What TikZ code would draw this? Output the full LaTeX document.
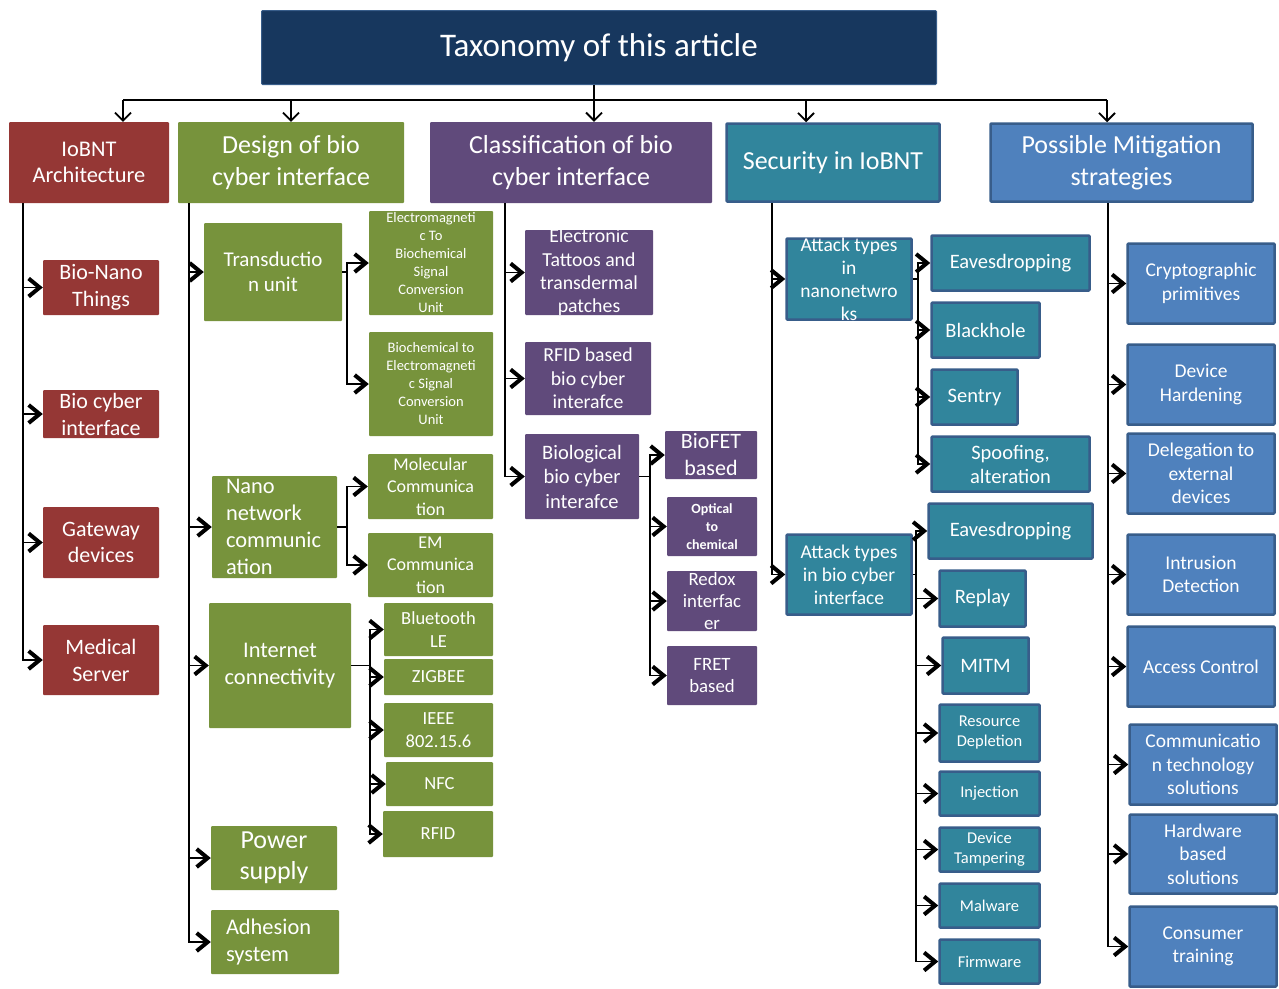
\documentclass[tikz,border=0pt]{standalone}
\usepackage{fontspec}
\setmainfont{Carlito}
\usetikzlibrary{arrows.meta}

\definecolor{ionavy}{HTML}{17375E}
\definecolor{iored}{HTML}{953735}
\definecolor{iogreen}{HTML}{77933C}
\definecolor{iopurple}{HTML}{604A7B}
\definecolor{ioteal}{HTML}{31859C}
\definecolor{ioblue}{HTML}{4F81BD}
\definecolor{ioedge}{HTML}{385D8A}

\tikzset{
	box/.style={rectangle, inner sep=1pt, align=center, text=white, rounded corners=1pt},
	titlebox/.style={box, fill=ionavy, draw=ioedge, line width=1pt},
	redbox/.style={box, fill=iored},
	greenbox/.style={box, fill=iogreen},
	purplebox/.style={box, fill=iopurple},
	tealbox/.style={box, fill=ioteal, draw=ioedge, line width=2.5pt},
	bluebox/.style={box, fill=ioblue, draw=ioedge, line width=2.5pt},
	wh/.style 2 args={minimum width=#1pt, minimum height=#2pt},
	fs/.style 2 args={font=\fontsize{#1}{#2}\selectfont},
	fsb/.style 2 args={font=\fontsize{#1}{#2}\selectfont\bfseries},
	wire/.style={draw=black, line width=1.6pt},
	arr/.style={wire, -{Straight Barb[length=11pt,width=18pt,line width=4pt]}},
	toparr/.style={wire, -{Straight Barb[length=8pt,width=16pt,line width=1.8pt]}}
}

\begin{document}
\begin{tikzpicture}[x=1pt,y=-1pt]
	\useasboundingbox (0,0) rectangle (1279,988);
	
	% title and the five branches
	\node[titlebox, wh={675}{74}, fs={33}{40}] (title) at (599,47.5) {Taxonomy of this article};
	
	\node[redbox, wh={160}{81}, fs={22.4}{26}] (arch) at (89,162.5) {IoBNT\\Architecture};
	\node[greenbox, wh={226}{81}, fs={26}{32}] (design) at (291,162.5) {Design of bio\\cyber interface};
	\node[purplebox, wh={282}{81}, fs={26}{32}] (classif) at (571,162.5) {Classification of bio\\cyber interface};
	\node[tealbox, wh={213}{78}, fs={26}{32}] (security) at (833,162.5) {Security in IoBNT};
	\node[bluebox, wh={262}{78}, fs={26}{32}] (mitig) at (1121.5,162.5) {Possible Mitigation\\strategies};
	
	\coordinate (busA) at (123,100);
	\coordinate (bus) at (594,100);
	\coordinate (busD) at (806,100);
	\coordinate (busE) at (1107,100);
	\draw[wire] (busA) -- (busE);
	\draw[toparr] (busA) -- (busA |- arch.north);
	\draw[toparr] (bus -| design.north) -- (design.north);
	\draw[toparr] (bus |- title.south) -- (bus |- classif.north);
	\draw[toparr] (busD) -- (busD |- security.north);
	\draw[toparr] (busE) -- (busE |- mitig.north);
	
	% IoBNT architecture
	\node[redbox, wh={116}{55}, fs={22}{27}, inner ysep=-2pt] (bionano) at (101,287.5) {Bio-Nano\\Things};
	\node[redbox, wh={116}{48}, fs={22}{27}, inner ysep=-4pt] (biocyber) at (101,414) {Bio cyber\\interface};
	\node[redbox, wh={116}{71}, fs={22}{26}] (gateway) at (101,542.5) {Gateway\\devices};
	\node[redbox, wh={116}{70}, fs={22}{27}] (medserver) at (101,660) {Medical\\Server};
	
	\coordinate (archtrunk) at (23,203);
	\draw[arr] (archtrunk) |- (bionano.west);
	\draw[arr] (archtrunk) |- (biocyber.west);
	\draw[arr] (archtrunk) |- (gateway.west);
	\draw[arr] (archtrunk) |- (medserver.west);
	
	% design of bio cyber interface
	\node[greenbox, wh={138}{98}, fs={21}{25}] (transd) at (273,272) {Transductio\\n unit};
	\node[greenbox, wh={125}{102}, fs={22.4}{27}, align=left, text width=97pt, inner xsep=14pt, inner ysep=-5pt] (nanonet) at (274.5,527) {Nano\\network\\communic\\ation};
	\node[greenbox, wh={142}{125}, fs={22.4}{27}] (internet) at (280,665.5) {Internet\\connectivity};
	\node[greenbox, wh={126}{64}, fs={26}{31}] (power) at (274,858) {Power\\supply};
	\node[greenbox, wh={128}{64}, fs={22.4}{27}, align=left, text width=98pt, inner xsep=15pt] (adhesion) at (275,942) {Adhesion\\system};
	
	\coordinate (designtrunk) at (189,203);
	\draw[arr] (designtrunk) |- (transd.west);
	\draw[arr] (designtrunk) |- (nanonet.west);
	\draw[arr] (designtrunk) |- (internet.west);
	\draw[arr] (designtrunk) |- (power.west);
	\draw[arr] (designtrunk) |- (adhesion.west);
	
	\node[greenbox, wh={124}{104}, fs={14.5}{18}, inner ysep=-4pt] (emtobio) at (431,263) {Electromagneti\\c To\\Biochemical\\Signal\\Conversion\\Unit};
	\node[greenbox, wh={124}{104}, fs={14.5}{18}] (biotoem) at (431,384) {Biochemical to\\Electromagneti\\c Signal\\Conversion\\Unit};
	\draw[wire] (transd.east) -- ++(5,0) coordinate (transdj);
	\draw[arr] (transdj) |- (emtobio.west);
	\draw[arr] (transdj) |- (biotoem.west);
	
	\node[greenbox, wh={125}{65}, fs={18}{22.5}, inner ysep=-3pt] (molcomm) at (430.5,486.5) {Molecular\\Communica\\tion};
	\node[greenbox, wh={125}{64}, fs={18}{22.5}, inner ysep=-3pt] (emcomm) at (430.5,565) {EM\\Communica\\tion};
	\draw[wire] (nanonet.east) -- ++(10,0) coordinate (nanonetj);
	\draw[arr] (nanonetj) |- (molcomm.west);
	\draw[arr] (nanonetj) |- (emcomm.west);
	
	\node[greenbox, wh={109}{53}, fs={18.5}{23}] (ble) at (438.5,629.5) {Bluetooth\\LE};
	\node[greenbox, wh={109}{36}, fs={18.5}{23}] (zigbee) at (438.5,677) {ZIGBEE};
	\node[greenbox, wh={109}{54}, fs={18.5}{23}] (ieee) at (438.5,730) {IEEE\\802.15.6};
	\node[greenbox, wh={107}{44}, fs={18.5}{23}] (nfc) at (439.5,784) {NFC};
	\node[greenbox, wh={110}{46}, fs={18.5}{23}] (rfid) at (438,834) {RFID};
	\draw[wire] (internet.east) -- ++(19,0) coordinate (internetj);
	\draw[arr] (internetj) |- (ble.west);
	\draw[arr] (internetj) |- (zigbee.west);
	\draw[arr] (internetj) |- (ieee.west);
	\draw[arr] (internetj) |- (nfc.west);
	\draw[arr] (internetj) |- (rfid.west);
	
	% classification of bio cyber interface
	\node[purplebox, wh={128}{85}, fs={19.8}{23.3}, inner ysep=-6pt] (tattoo) at (589,272.5) {Electronic\\Tattoos and\\transdermal\\patches};
	\node[purplebox, wh={126}{73}, fs={19.8}{23.5}] (rfidbio) at (588,378.5) {RFID based\\bio cyber\\interafce};
	\node[purplebox, wh={114}{85}, fs={20.5}{24.5}] (biologic) at (582,476.5) {Biological\\bio cyber\\interafce};
	
	\coordinate (classiftrunk) at (505,203);
	\draw[arr] (classiftrunk) |- (tattoo.west);
	\draw[arr] (classiftrunk) |- (rfidbio.west);
	\draw[arr] (classiftrunk) |- (biologic.west);
	
	\node[purplebox, wh={92}{48}, fs={22}{27}, inner ysep=-5pt] (biofet) at (711,455) {BioFET\\based};
	\node[purplebox, wh={90}{59}, fsb={14}{18}] (optical) at (712,526.5) {Optical\\to\\chemical};
	\node[purplebox, wh={90}{60}, fs={18.8}{22}, inner ysep=-4pt] (redox) at (712,601) {Redox\\interfac\\er};
	\node[purplebox, wh={90}{59}, fs={18.8}{22}] (fret) at (712,675.5) {FRET\\based};
	\draw[wire] (biologic.east) -- ++(11,0) coordinate (biologicj);
	\draw[arr] (biologicj) |- (biofet.west);
	\draw[arr] (biologicj) |- (optical.west);
	\draw[arr] (biologicj) |- (redox.west);
	\draw[arr] (biologicj) |- (fret.west);
	
	% security in IoBNT
	\node[tealbox, wh={125}{81}, fs={19.5}{23}, inner ysep=-7pt] (attnano) at (849,279) {Attack types\\in\\nanonetwro\\ks};
	\node[tealbox, wh={125}{80}, fs={19.5}{23}] (attbio) at (849,574.5) {Attack types\\in bio cyber\\interface};
	
	\coordinate (securitytrunk) at (772,203);
	\draw[arr] (securitytrunk) |- (attnano.west);
	\draw[arr] (securitytrunk) |- (attbio.west);
	
	\node[tealbox, wh={158}{55}, fs={20.5}{24}] (eaves) at (1010.5,263) {Eavesdropping};
	\node[tealbox, wh={108}{55}, fs={20.5}{24}] (blackhole) at (985.5,330) {Blackhole};
	\node[tealbox, wh={86}{55}, fs={20.5}{24}] (sentry) at (974.5,397) {Sentry};
	\node[tealbox, wh={158}{55}, fs={20.5}{24}] (spoof) at (1010.5,464) {Spoofing,\\alteration};
	\draw[wire] (attnano.east) -- ++(5,0) coordinate (attnanoj);
	\draw[arr] (attnanoj) |- (eaves.west);
	\draw[arr] (attnanoj) |- (blackhole.west);
	\draw[arr] (attnanoj) |- (sentry.west);
	\draw[arr] (attnanoj) |- (spoof.west);
	
	\node[tealbox, wh={164}{55}, fs={20.5}{24}] (eavesbio) at (1010.5,531) {Eavesdropping};
	\node[tealbox, wh={86}{56}, fs={20.5}{24}] (replay) at (982.5,598.5) {Replay};
	\node[tealbox, wh={86}{56}, fs={20.5}{24}] (mitm) at (985.5,665.5) {MITM};
	\node[tealbox, wh={100}{57}, fs={16.5}{20}] (resdep) at (989.5,733) {Resource\\Depletion};
	\node[tealbox, wh={100}{44}, fs={16.5}{20}] (inject) at (989.5,793.5) {Injection};
	\node[tealbox, wh={100}{44}, fs={16.5}{20}, inner ysep=-1pt] (tamper) at (989.5,849.5) {Device\\Tampering};
	\node[tealbox, wh={100}{44}, fs={16.5}{20}] (malware) at (989.5,905.5) {Malware};
	\node[tealbox, wh={100}{44}, fs={16.5}{20}] (firmware) at (989.5,961.5) {Firmware};
	\draw[wire] (attbio.east) -- ++(3,0) coordinate (attbioj);
	\draw[arr] (attbioj) |- (eavesbio.west);
	\draw[arr] (attbioj) |- (replay.west);
	\draw[arr] (attbioj) |- (mitm.west);
	\draw[arr] (attbioj) |- (resdep.west);
	\draw[arr] (attbioj) |- (inject.west);
	\draw[arr] (attbioj) |- (tamper.west);
	\draw[arr] (attbioj) |- (malware.west);
	\draw[arr] (attbioj) |- (firmware.west);
	
	% possible mitigation strategies
	\node[bluebox, wh={147}{80}, fs={19.5}{23.5}] (crypto) at (1201,283.5) {Cryptographic\\primitives};
	\node[bluebox, wh={147}{80}, fs={19.5}{23.5}] (harden) at (1201,384.5) {Device\\Hardening};
	\node[bluebox, wh={147}{80}, fs={19.5}{23.5}] (deleg) at (1201,473.5) {Delegation to\\external\\devices};
	\node[bluebox, wh={147}{80}, fs={19.5}{23.5}] (intrus) at (1201,574.5) {Intrusion\\Detection};
	\node[bluebox, wh={147}{80}, fs={19.5}{23.5}] (access) at (1201,666.5) {Access Control};
	\node[bluebox, wh={147}{80}, fs={19.5}{23.5}] (commtech) at (1203,764.5) {Communicatio\\n technology\\solutions};
	\node[bluebox, wh={147}{79}, fs={19.5}{23.5}] (hardware) at (1203,854) {Hardware\\based\\solutions};
	\node[bluebox, wh={147}{80}, fs={19.5}{23.5}] (consumer) at (1203,946.5) {Consumer\\training};
	
	\coordinate (mitigtrunk) at (1108,203);
	\draw[arr] (mitigtrunk) |- (crypto.west);
	\draw[arr] (mitigtrunk) |- (harden.west);
	\draw[arr] (mitigtrunk) |- (deleg.west);
	\draw[arr] (mitigtrunk) |- (intrus.west);
	\draw[arr] (mitigtrunk) |- (access.west);
	\draw[arr] (mitigtrunk) |- (commtech.west);
	\draw[arr] (mitigtrunk) |- (hardware.west);
	\draw[arr] (mitigtrunk) |- (consumer.west);
\end{tikzpicture}
\end{document}
